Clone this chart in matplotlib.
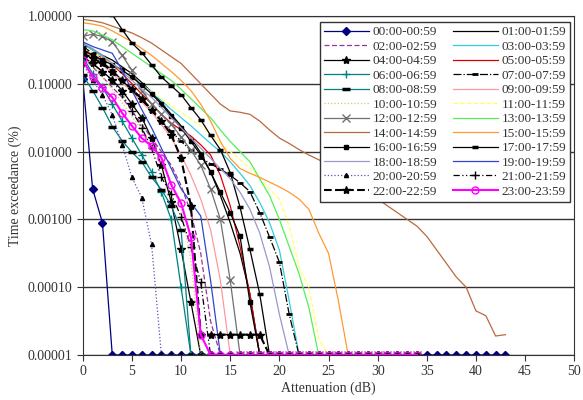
import numpy as np
import matplotlib
matplotlib.use("Agg")
import matplotlib.pyplot as plt
from matplotlib.ticker import FixedLocator, FormatStrFormatter, NullLocator

plt.rcParams['font.family'] = ['Liberation Serif', 'DejaVu Serif']

# time exceedance, stored as log10(%) at 0, 1, 2, ... dB
FLOOR = -5.0
h00 = [-0.93, -2.55, -3.05]
h01 = [-0.4, -0.5, -0.58, -0.65, -0.75, -0.85, -0.98, -1.12, -1.28, -1.45, -1.62,
       -1.8, -2.02, -2.3, -2.65, -3.05, -3.5, -4.1]
h02 = [-0.6, -0.75, -0.9, -1.05, -1.2, -1.4, -1.6, -1.8, -2.0, -2.2, -2.5,
       -2.9, -3.5, -4.5]
h03 = [-0.42, -0.5, -0.6, -0.7, -0.8, -0.9, -1.0, -1.12, -1.25, -1.38, -1.5, -1.62,
       -1.75, -1.88, -2.0, -2.15, -2.32, -2.5, -2.75, -3.05, -3.45, -4.2]
h04 = [-0.6, -0.7, -0.82, -0.94, -1.1, -1.3, -1.5, -1.8, -2.2, -2.75, -3.44, -4.22]
h05 = [-0.5, -0.55, -0.62, -0.72, -0.85, -1.0, -1.15, -1.3, -1.45, -1.58, -1.68,
       -1.77, -1.9, -2.05, -2.35, -2.8, -3.4, -4.1]
h06 = [-0.6, -0.85, -1.05, -1.3, -1.55, -1.8, -2.05, -2.3, -2.6, -3.0, -4.0]
h07 = [-0.45, -0.55, -0.68, -0.8, -0.95, -1.1, -1.25, -1.4, -1.55, -1.7, -1.85,
       -1.98, -2.09, -2.18, -2.26, -2.35, -2.46, -2.59, -2.9, -3.26, -3.63, -4.4]
h08 = [-0.87, -1.1, -1.35, -1.63, -1.84, -2.01, -2.15, -2.38, -2.56, -2.8, -3.15]
h09 = [-0.5, -0.6, -0.72, -0.85, -0.98, -1.12, -1.27, -1.42, -1.6, -1.8, -2.05, -2.35,
       -2.7, -3.15, -3.9]
h10 = [-0.55, -0.72, -0.9, -1.08, -1.28, -1.48, -1.68, -1.9, -2.15, -2.45, -2.85, -3.6]
h11 = [-0.48, -0.55, -0.62, -0.72, -0.82, -0.92, -1.02, -1.12, -1.22, -1.32, -1.42,
       -1.52, -1.62, -1.75, -1.88, -2.0, -2.12, -2.25, -2.4, -2.55, -2.7, -3.1, -3.7,
       -4.0, -4.76]
h12 = [-0.3, -0.27, -0.3, -0.38, -0.58, -0.8, -1.1, -1.3, -1.45, -1.6, -1.78,
       -1.98, -2.2, -2.55, -3.0, -3.9]
h13 = [-0.2, -0.22, -0.28, -0.35, -0.45, -0.55, -0.65, -0.75, -0.85, -0.95, -1.08,
       -1.22, -1.36, -1.5, -1.68, -1.85, -2.0, -2.15, -2.4, -2.65, -3.0, -3.4, -3.8, -4.3]
h14 = [-0.05, -0.07, -0.1, -0.15, -0.2, -0.25, -0.32, -0.4, -0.5, -0.6, -0.7, -0.85,
       -1.0, -1.15, -1.3, -1.4, -1.42, -1.45, -1.55, -1.68, -1.8, -1.88, -1.97, -2.05,
       -2.12, -2.2, -2.3, -2.4, -2.5, -2.6, -2.7, -2.8, -2.9, -3.0, -3.1, -3.25, -3.45,
       -3.65, -3.85, -4.0, -4.35, -4.42, -4.72, -4.7]
h15 = [-0.1, -0.12, -0.15, -0.22, -0.3, -0.38, -0.48, -0.58, -0.7, -0.82, -0.95,
       -1.1, -1.3, -1.55, -1.85, -2.1, -2.25, -2.32, -2.38, -2.45, -2.52, -2.6, -2.7,
       -2.85, -3.2, -3.5, -4.2]
h16 = [-0.5, -0.58, -0.65, -0.72, -0.8, -0.9, -1.02, -1.15, -1.3, -1.48, -1.65,
       -1.85, -2.05, -2.3, -2.6, -2.9, -3.25, -4.22]
h17 = [0.4, 0.3, 0.15, 0.02, -0.2, -0.4, -0.54, -0.72, -0.9, -1.03, -1.16, -1.35,
       -1.53, -1.76, -1.97, -2.31, -2.82, -3.44, -4.1]
h18 = [-0.4, -0.48, -0.58, -0.7, -0.82, -0.95, -1.08, -1.2, -1.35, -1.5, -1.65,
       -1.8, -1.95, -2.1, -2.25, -2.4, -2.6, -2.85, -3.2, -3.7, -4.4]
h19 = [-0.38, -0.45, -0.5, -0.55, -0.8, -1.1, -1.38, -1.65, -1.95, -2.25, -2.55,
       -2.75, -2.95, -3.9]
h20 = [-0.7, -0.95, -1.16, -1.46, -1.9, -2.38, -2.68, -3.37]
h21 = [-0.6, -0.7, -0.82, -0.95, -1.15, -1.4, -1.65, -1.95, -2.38, -2.63, -2.96,
       -3.4, -3.93]
h22 = [-0.55, -0.62, -0.7, -0.82, -0.95, -1.08, -1.22, -1.38, -1.55, -1.75, -2.1,
       -2.8, -4.7, -4.7, -4.7, -4.7, -4.7, -4.7, -4.7]
h23 = [-0.65, -0.9, -1.06, -1.2, -1.43, -1.62, -1.8, -1.92, -2.09, -2.49, -2.76,
       -3.26, -4.7]

series = [h00, h01, h02, h03, h04, h05, h06, h07, h08, h09, h10, h11,
          h12, h13, h14, h15, h16, h17, h18, h19, h20, h21, h22, h23]
labels = ['%02d:00-%02d:59' % (h, h) for h in range(24)]
# last dB value on the floor line for each hour (None = never reaches it)
floor_end = [43, 34, 34, 34, 34, 34, 34, 34, 34, 34, 34, 34,
             34, 34, None, 34, 34, 34, 34, 34, 34, 34, 34, 34]

styles = [
    dict(color='#000080', marker='D', ms=4),
    dict(color='black'),
    dict(color='#993399', ls=(0, (4, 2))),
    dict(color='#33CCDD'),
    dict(color='black', marker='*', ms=6),
    dict(color='#DD0000'),
    dict(color='#008080', marker='+', ms=6),
    dict(color='black', ls='-.', marker='_', ms=5, mew=2),
    dict(color='#008080', marker='_', ms=6, mew=2.5, mec='black'),
    dict(color='#FF9999'),
    dict(color='#CCCC66', ls=':'),
    dict(color='#FFFF66', ls='--'),
    dict(color='#707070', marker='x', ms=6),
    dict(color='#55EE55'),
    dict(color='#B86A3E'),
    dict(color='#FF9933'),
    dict(color='black', marker='s', ms=2.5),
    dict(color='black', marker='_', ms=5, mew=2.5),
    dict(color='#9999CC'),
    dict(color='#3344CC'),
    dict(color='#5555BB', ls=':', marker='^', ms=3, mfc='black', mec='black'),
    dict(color='black', ls=(0, (5, 2, 1, 2, 1, 2)), marker='+', ms=6),
    dict(color='black', ls='--', lw=1.5, marker='*', ms=6),
    dict(color='#FF00FF', lw=1.5, marker='o', ms=5, mfc='none'),
]

fig = plt.figure(figsize=(5.83, 4.0), dpi=100)
ax = fig.add_axes([0.142, 0.1125, 0.843, 0.8475])

lines = []
for vals, lab, end, st in zip(series, labels, floor_end, styles):
    v = list(vals)
    if end is not None:
        v = v + [FLOOR] * (end - len(v) + 1)
    x = np.arange(len(v))
    y = 10.0 ** np.array(v)
    kw = dict(lw=0.9)
    kw.update(st)
    ln, = ax.plot(x, y, label=lab, **kw)
    lines.append(ln)

ax.set_yscale('log')
ax.set_ylim(1e-5, 1.0)
ax.set_xlim(0, 50)
ax.yaxis.set_major_locator(FixedLocator([1e-5, 1e-4, 1e-3, 1e-2, 1e-1, 1.0]))
ax.yaxis.set_minor_locator(NullLocator())
ax.yaxis.set_major_formatter(FormatStrFormatter('%.5f'))
ax.set_xticks(np.arange(0, 51, 5))
ax.grid(axis='y', color='#333333', lw=1.0)
ax.set_axisbelow(True)
ax.tick_params(labelsize=10, direction='out', length=4, colors='#333333', labelcolor='#333333')
for s in ax.spines.values():
    s.set_color('#333333')

ax.set_xlabel('Attenuation (dB)', fontsize=10, color='#333333', labelpad=2)
ax.set_ylabel('Time exceedance (%)', fontsize=10, color='#333333', labelpad=4)

# legend reads row by row: even hours left column, odd hours right column
order = list(range(0, 24, 2)) + list(range(1, 24, 2))
leg = ax.legend([lines[i] for i in order], [labels[i] for i in order],
                ncol=2, loc='upper right', bbox_to_anchor=(0.992, 0.982),
                borderaxespad=0, fontsize=9.5, handlelength=3.4, labelspacing=0.17,
                columnspacing=1.2, handletextpad=0.3, borderpad=0.3,
                fancybox=False, framealpha=1)
leg.get_frame().set_edgecolor('#333333')
for t in leg.get_texts():
    t.set_color('#333333')

fig.savefig('out.png', dpi=100)
